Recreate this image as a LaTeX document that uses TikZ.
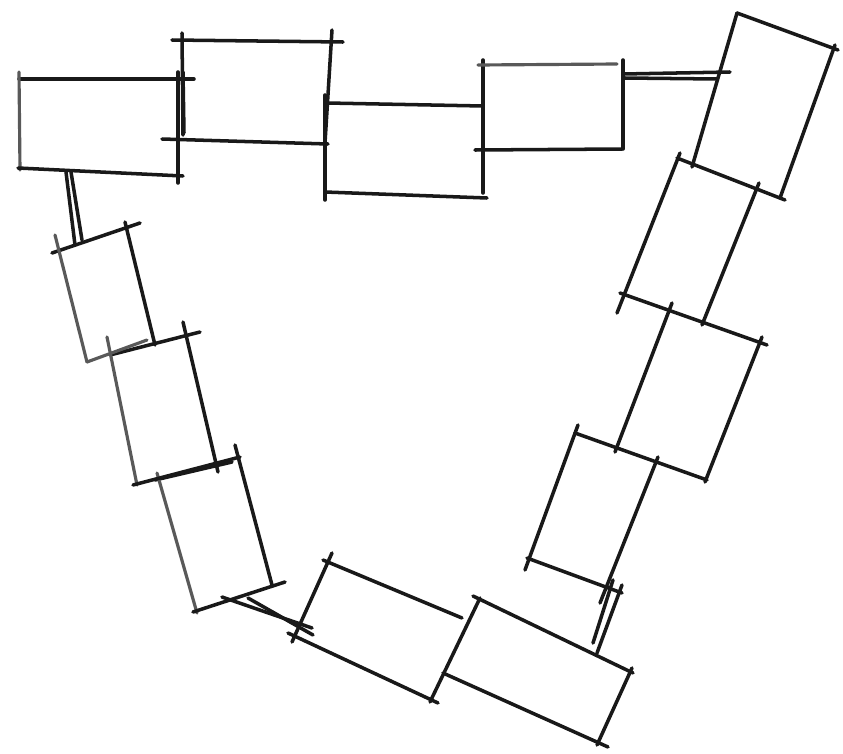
\documentclass[tikz,border=0pt]{standalone}
\usepackage{tikz}

\begin{document}
\begin{tikzpicture}[x=0.02cm,y=-0.02cm,
  pen/.style={line width=2pt,black!90,line cap=round},
  faint/.style={line width=1.8pt,black!65,line cap=round}]
  \useasboundingbox (0,0) rectangle (843,754);
  % top row
  \draw[pen](19,79)--(194,79);\draw[faint](19,72)--(20,170);
  \draw[pen](18,168)--(183,176);\draw[pen](178,72)--(178,183);
  \draw[pen](183,72)--(184,133);
  \draw[pen](172,40)--(343,42);\draw[pen](182,33)--(183,135);
  \draw[pen](162,139)--(328,144);\draw[pen](332,30)--(325,143);
  \draw[pen](327,103)--(483,106);\draw[pen](325,95)--(325,200);
  \draw[pen](325,192)--(487,198);\draw[pen](483,60)--(483,193);
  \draw[faint](478,65)--(617,64);\draw[pen](475,150)--(622,149);
  \draw[pen](623,60)--(623,149);
  \draw[pen](623,74)--(730,72);\draw[pen](625,78)--(717,79);
  % right column
  \draw[pen](737,13)--(838,50);\draw[pen](737,13)--(692,167);
  \draw[pen](835,45)--(780,198);\draw[pen](677,158)--(785,200);
  \draw[pen](680,153)--(617,313);\draw[pen](759,183)--(702,325);
  \draw[pen](620,293)--(767,345);
  \draw[pen](672,303)--(615,452);\draw[pen](762,337)--(705,482);
  \draw[pen](575,433)--(707,480);
  \draw[pen](578,425)--(525,570);\draw[pen](658,457)--(600,603);
  \draw[pen](527,558)--(622,593);
  \draw[pen](613,580)--(593,643);\draw[pen](622,585)--(597,653);
  % bottom
  \draw[pen](473,596)--(633,673);\draw[pen](480,598)--(430,702);
  \draw[pen](443,673)--(608,747);\draw[pen](632,668)--(597,745);
  \draw[pen](323,560)--(462,618);\draw[pen](332,553)--(292,642);
  \draw[pen](288,633)--(438,703);
  \draw[pen](222,597)--(312,628);\draw[pen](248,598)--(313,635);
  % left column
  \draw[pen](155,480)--(232,462);\draw[faint](157,473)--(197,613);
  \draw[pen](235,445)--(272,585);\draw[pen](193,612)--(285,582);
  \draw[pen](110,355)--(200,332);\draw[faint](107,337)--(137,485);
  \draw[pen](183,322)--(218,472);\draw[pen](133,485)--(240,457);
  \draw[pen](52,253)--(140,223);\draw[faint](55,235)--(87,362);
  \draw[pen](125,222)--(155,345);\draw[faint](87,362)--(147,340);
  \draw[pen](66,172)--(75,245);\draw[pen](71,172)--(82,240);
\end{tikzpicture}
\end{document}
